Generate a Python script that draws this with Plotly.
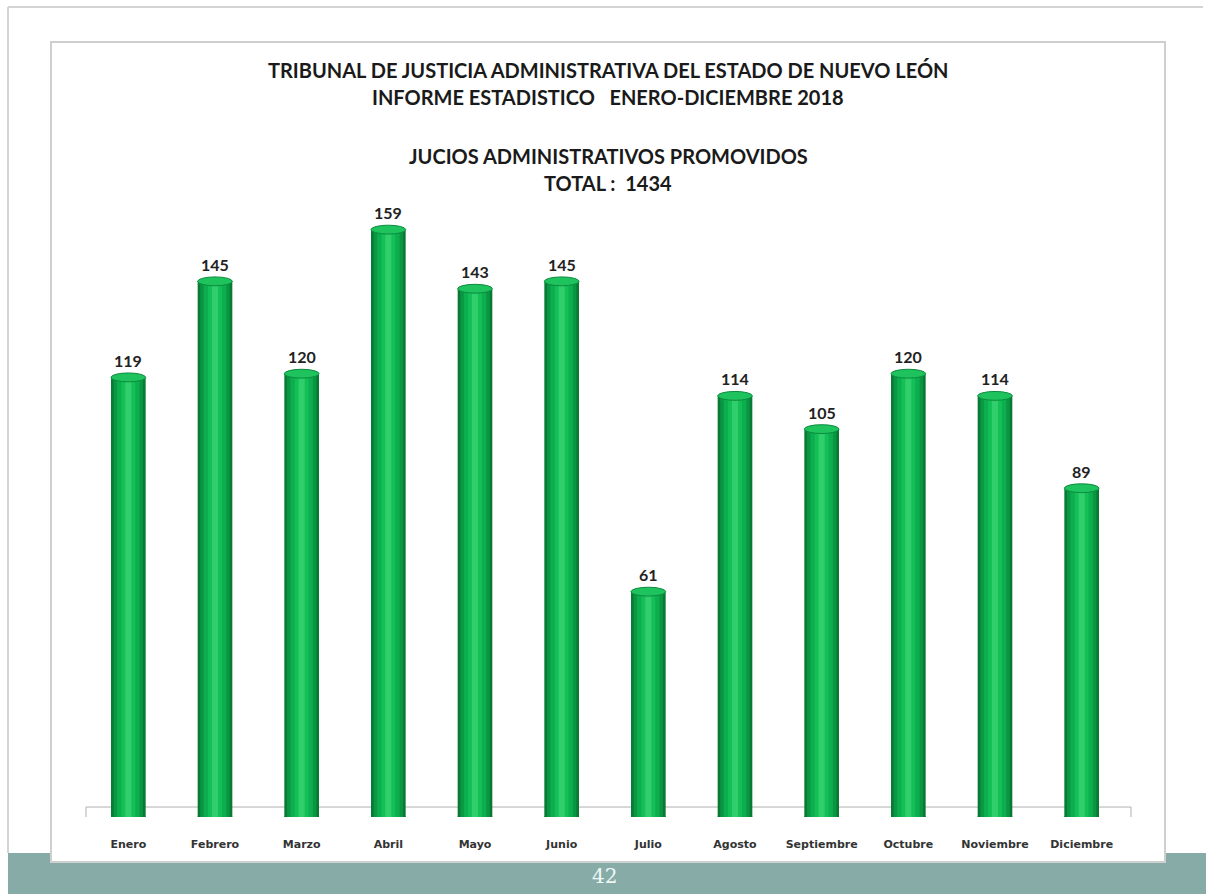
import plotly.graph_objects as go

months = ["Enero", "Febrero", "Marzo", "Abril", "Mayo", "Junio", "Julio",
          "Agosto", "Septiembre", "Octubre", "Noviembre", "Diciembre"]
values = [119, 145, 120, 159, 143, 145, 61, 114, 105, 120, 114, 89]
title_lines = ["TRIBUNAL DE JUSTICIA ADMINISTRATIVA DEL ESTADO DE NUEVO LEÓN",
               "INFORME ESTADISTICO   ENERO-DICIEMBRE 2018",
               "JUCIOS ADMINISTRATIVOS PROMOVIDOS",
               "TOTAL :  1434"]
page_number = "42"

# layout geometry (pixels of the 1206x894 page)
W, H = 1206, 894
L, R, T, B = 85, 81, 189, 77
pw, ph = W - L - R, H - T - B
YMAX = 170


def px_x(p):
    return (p - L) / pw


def px_y(p):
    return (H - B - p) / ph


fig = go.Figure()

layers = [(0.40, "#087a34"), (0.34, "#0a9643"), (0.26, "#0cae4d"),
          (0.16, "#14bf58"), (0.07, "#30cf6c")]
for w, c in layers:
    fig.add_trace(go.Bar(x=list(range(len(months))), y=values, width=w,
                         marker=dict(color=c, line=dict(width=0)),
                         hoverinfo="skip", showlegend=False))

shapes = []
# teal footer strip
shapes.append(dict(type="rect", xref="paper", yref="paper",
                   x0=px_x(8), x1=px_x(W + 5), y0=px_y(853), y1=px_y(H + 5),
                   fillcolor="#87aca8", line=dict(width=0), layer="below"))
# outer page border lines
shapes.append(dict(type="line", xref="paper", yref="paper",
                   x0=px_x(8), x1=px_x(1203), y0=px_y(7), y1=px_y(7),
                   line=dict(color="#d4d4d4", width=2), layer="below"))
shapes.append(dict(type="line", xref="paper", yref="paper",
                   x0=px_x(8), x1=px_x(8), y0=px_y(7), y1=px_y(853),
                   line=dict(color="#d4d4d4", width=2), layer="below"))
# chart box
shapes.append(dict(type="rect", xref="paper", yref="paper",
                   x0=px_x(51), x1=px_x(1165), y0=px_y(42), y1=px_y(862),
                   fillcolor="white", line=dict(color="#cfcfcf", width=2),
                   layer="below"))
# floor
shapes.append(dict(type="rect", xref="paper", yref="y",
                   x0=px_x(86), x1=px_x(1131), y0=-1.4, y1=2.7,
                   fillcolor="white", line=dict(color="#b0b0b0", width=1),
                   layer="below"))

for i, v in enumerate(values):
    # bottom rounded end
    shapes.append(dict(type="circle", xref="x", yref="y",
                       x0=i - 0.2, x1=i + 0.2, y0=-1.2, y1=1.2,
                       fillcolor="#0b8a3c", line=dict(width=0), layer="below"))
    # top cap
    shapes.append(dict(type="circle", xref="x", yref="y",
                       x0=i - 0.2, x1=i + 0.2, y0=v - 1.2, y1=v + 1.2,
                       fillcolor="#1ec35e", line=dict(color="#0c8a3d", width=1),
                       layer="above"))

annotations = []
for i, v in enumerate(values):
    annotations.append(dict(x=i, y=v, xref="x", yref="y", text=f"<b>{v}</b>",
                            showarrow=False, yshift=17, yanchor="middle",
                            font=dict(family="Lato", size=16, color="#222222")))

title_y = [70, 97, 156, 183]
for txt, yy in zip(title_lines, title_y):
    annotations.append(dict(x=px_x(608), y=px_y(yy), xref="paper", yref="paper",
                            text=f"<b>{txt}</b>", showarrow=False,
                            xanchor="center", yanchor="middle",
                            font=dict(family="Lato", size=20, color="#1a1a1a")))

annotations.append(dict(x=px_x(604), y=px_y(876), xref="paper", yref="paper",
                        text=page_number, showarrow=False,
                        xanchor="center", yanchor="middle",
                        font=dict(family="DejaVu Serif", size=20, color="#eef7f6")))

fig.update_layout(
    width=W, height=H,
    margin=dict(l=L, r=R, t=T, b=B, pad=0),
    barmode="overlay",
    paper_bgcolor="white",
    plot_bgcolor="rgba(0,0,0,0)",
    shapes=shapes,
    annotations=annotations,
    showlegend=False,
    xaxis=dict(tickmode="array", tickvals=list(range(len(months))),
               ticktext=[f"<b>{m}</b>" for m in months],
               range=[-0.5, len(months) - 0.5], showgrid=False,
               zeroline=False, showline=False, ticks="",
               ticklabelstandoff=19,
               tickfont=dict(family="DejaVu Sans", size=11, color="#333333")),
    yaxis=dict(range=[0, YMAX], visible=False, showgrid=False, zeroline=False),
)

fig.write_html("out.html", config={"displayModeBar": False},
               post_script="document.body.style.margin='0';"
                           "document.body.style.overflow='hidden';")
